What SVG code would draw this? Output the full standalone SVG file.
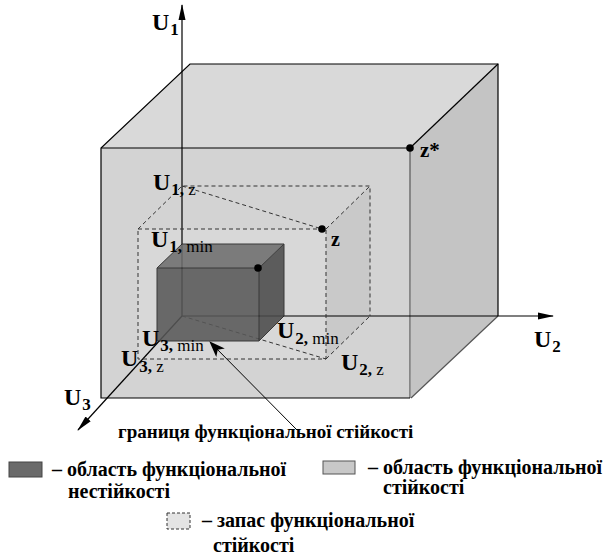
<svg xmlns="http://www.w3.org/2000/svg" width="603" height="559" viewBox="0 0 603 559">
<defs>
<marker id="ah" viewBox="0 0 16 10" refX="15" refY="5" markerWidth="16" markerHeight="10" markerUnits="userSpaceOnUse" orient="auto">
<path d="M0,1.5 L16,5 L0,8.5 Z" fill="#000"/>
</marker>
<marker id="ah2" viewBox="0 0 16 12" refX="15" refY="6" markerWidth="16" markerHeight="12" markerUnits="userSpaceOnUse" orient="auto">
<path d="M0,0 L16,6 L0,12 L4,6 Z" fill="#000"/>
</marker>
<style>
.edge{stroke:#000;stroke-width:1.2;fill:none}
.gedge{stroke:#555;stroke-width:1.2;fill:none}
.dash{stroke:#333;stroke-width:1;stroke-dasharray:4 3;fill:none}
.axis{stroke:#000;stroke-width:1.2;fill:none}
.lb{font-family:"Liberation Serif","DejaVu Serif",serif;font-weight:bold;fill:#000}
.big{font-size:24px}
.sub{font-size:17px}
.nb{font-weight:normal}
.leg{font-family:"Liberation Serif","DejaVu Serif",serif;font-weight:bold;font-size:20px;fill:#000}
</style>
</defs>
<rect width="603" height="559" fill="#fff"/>

<g id="big-cube">
<polygon points="101,148 190,64 498,64 410,148" fill="#d9d9d9"/>
<polygon points="410,148 498,64 498,316 411,398" fill="#c4c4c4"/>
<rect x="101" y="148" width="309" height="250" fill="#d3d3d3"/>
<line class="gedge" x1="410" y1="148" x2="410" y2="398"/>
<line class="gedge" x1="411" y1="398" x2="498" y2="316"/>
<polyline class="edge" points="410,398 101,398 101,148 190,64 498,64 498,316"/>
<line class="edge" x1="101" y1="148" x2="410" y2="148"/>
<line class="edge" x1="410" y1="148" x2="498" y2="64" stroke-width="0.9"/>
</g>

<g id="reserve-box">
<polygon points="326,229 370,186 370,316 326,359" fill="#c9c9c9"/>
<rect x="138" y="229" width="188" height="130" fill="#d8d8d8"/>
</g>

<g id="connectors">
<line class="axis" x1="182" y1="316" x2="182" y2="5" marker-end="url(#ah)"/>
<line class="axis" x1="182" y1="316" x2="553" y2="316" marker-end="url(#ah)"/>
<line class="axis" x1="182" y1="316" x2="78" y2="430" marker-end="url(#ah)"/>
<rect class="dash" x="138" y="229" width="188" height="130"/>
<polyline class="dash" points="138,229 182,186 370,186 370,316"/>
<line class="dash" x1="326" y1="229" x2="370" y2="186"/>
<line class="dash" x1="326" y1="359" x2="370" y2="316"/>
<line class="dash" x1="182" y1="186" x2="322" y2="229"/>
<line class="dash" x1="182" y1="316" x2="326" y2="359"/>
</g>

<g id="inner-cube" opacity="0.87">
<polygon points="157,268 182,244 284,244 259,268" fill="#6e6e6e"/>
<polygon points="259,268 284,244 284,316 259,341" fill="#4a4a4a"/>
<rect x="157" y="268" width="102" height="73" fill="#585858"/>
<polygon points="157,268 182,244 284,244 284,316 259,341 157,341" fill="none" stroke="#222" stroke-width="1"/>
<polyline points="157,268 259,268 259,341" fill="none" stroke="#222" stroke-width="1"/>
<line x1="259" y1="268" x2="284" y2="244" stroke="#222" stroke-width="1"/>
</g>

<g id="annotation-arrow">
<line x1="297" y1="430" x2="210" y2="342" stroke="#000" stroke-width="1" marker-end="url(#ah2)"/>
</g>

<g id="points">
<circle cx="410" cy="148" r="3.8" fill="#000"/>
<circle cx="322" cy="229" r="3.8" fill="#000"/>
<circle cx="258" cy="268" r="3.8" fill="#000"/>
</g>

<g id="labels">
<text class="lb big" x="152" y="30">U<tspan class="sub" dx="1" dy="5">1</tspan></text>
<text class="lb big" x="534" y="347" font-size="25">U<tspan class="sub" dx="1" dy="5">2</tspan></text>
<text class="lb big" x="64" y="405">U<tspan class="sub" dx="1" dy="5">3</tspan></text>
<text class="lb" x="420" y="157" font-size="21">z*</text>
<text class="lb" x="331" y="246" font-size="20">z</text>
<text class="lb big" x="153" y="190">U<tspan class="sub" dx="1" dy="5">1, </tspan><tspan class="sub nb">z</tspan></text>
<text class="lb big" x="151" y="247">U<tspan class="sub" dx="1" dy="5">1, </tspan><tspan class="sub nb">min</tspan></text>
<text class="lb big" x="142" y="346">U<tspan class="sub" dx="1" dy="5">3, </tspan><tspan class="sub nb">min</tspan></text>
<text class="lb big" x="121" y="366">U<tspan class="sub" dx="1" dy="6">3, </tspan><tspan class="sub nb">z</tspan></text>
<text class="lb big" x="277" y="338">U<tspan class="sub" dx="1" dy="6">2, </tspan><tspan class="sub nb">min</tspan></text>
<text class="lb big" x="341" y="370">U<tspan class="sub" dx="1" dy="5">2, </tspan><tspan class="sub nb">z</tspan></text>
<text class="lb" x="118" y="438" font-size="19">границя функціональної стійкості</text>
</g>

<g id="legend">
<rect x="9" y="462" width="33" height="15" fill="#6a6a6a" stroke="#444" stroke-width="1"/>
<text class="leg" x="52" y="476">– область функціональної</text>
<text class="leg" x="68" y="498">нестійкості</text>
<rect x="323" y="461" width="32" height="13" fill="#c8c8c8" stroke="#555" stroke-width="1"/>
<text class="leg" x="368" y="474" font-size="19.5">– область функціональної</text>
<text class="leg" x="383" y="494" font-size="19.5">стійкості</text>
<rect x="167" y="513" width="23" height="16" fill="#e4e4e4" stroke="#333" stroke-width="1" stroke-dasharray="3 2"/>
<text class="leg" x="202" y="527">– запас функціональної</text>
<text class="leg" x="213" y="552">стійкості</text>
</g>
</svg>
